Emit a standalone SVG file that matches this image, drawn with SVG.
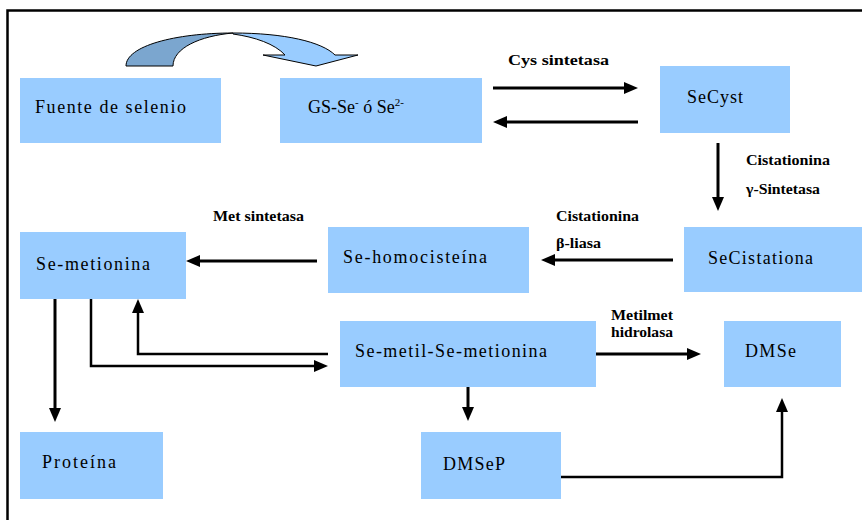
<svg xmlns="http://www.w3.org/2000/svg" width="862" height="520" viewBox="0 0 862 520">
<style>
.box{fill:#99CCFF;}
.lbl{font-size:18px;fill:#000;}
.enz{font-size:14px;font-weight:bold;fill:#000;}
.c{fill:none;stroke:#000;stroke-width:3;marker-end:url(#ah);}
.t{fill:none;stroke:#000;stroke-width:2.5;marker-end:url(#ah);}
</style>
<defs>
<marker id="ah" markerUnits="userSpaceOnUse" markerWidth="14" markerHeight="12" refX="2" refY="6" orient="auto">
<path d="M0,0 L14,6 L0,12 Z" fill="#000"/>
</marker>
</defs>
<rect width="862" height="520" fill="#fff"/>
<path d="M7.5,520 V10.5 H862" fill="none" stroke="#000" stroke-width="2.5"/>

<g id="curved-arrow">
<path d="M126,66 C126,46 175,33 233,33 C200,36 173,48 173,66 Z" fill="#7BA6CF" stroke="#000" stroke-width="1"/>
<path d="M233,33 C285,33 322,42 335,55 L358,55 L316,66 L263,55 L285,55 C275,44 255,37 233,34 Z" fill="#99CCFF" stroke="#000" stroke-width="1"/>
</g>

<g id="connectors">
<path class="c" d="M493,88 H626"/>
<path class="c" d="M638,122 H505"/>
<path class="c" d="M718,143 V199"/>
<path class="c" d="M673,260 H553"/>
<path class="c" d="M317,261 H198"/>
<path class="t" d="M328,354 H138 V311"/>
<path class="t" d="M91,299 V366 H316"/>
<path class="c" d="M55,299 V410"/>
<path class="c" d="M595,354 H689"/>
<path class="c" d="M468,387 V409"/>
<path class="t" d="M561,477 H782 V410"/>
</g>

<g id="labels" font-family="'Liberation Serif', Tinos, 'DejaVu Serif', serif">
<text class="enz" x="508" y="65" textLength="101" lengthAdjust="spacingAndGlyphs">Cys sintetasa</text>
<text class="enz" x="746" y="165" textLength="84" lengthAdjust="spacingAndGlyphs">Cistationina</text>
<text class="enz" x="746" y="194" textLength="74" lengthAdjust="spacingAndGlyphs">γ-Sintetasa</text>
<text class="enz" x="556" y="221" textLength="83" lengthAdjust="spacingAndGlyphs">Cistationina</text>
<text class="enz" x="556" y="248" textLength="45" lengthAdjust="spacingAndGlyphs">β-liasa</text>
<text class="enz" x="213" y="221" textLength="91" lengthAdjust="spacingAndGlyphs">Met sintetasa</text>
<text class="enz" x="611" y="320" textLength="62" lengthAdjust="spacingAndGlyphs">Metilmet</text>
<text class="enz" x="611" y="337" textLength="62" lengthAdjust="spacingAndGlyphs">hidrolasa</text>
</g>

<g id="nodes" font-family="'Liberation Serif', Tinos, 'DejaVu Serif', serif">
<g id="n-fuente">
<rect class="box" x="20" y="78" width="201" height="65"/>
<text class="lbl" x="35" y="113" textLength="151" lengthAdjust="spacing">Fuente de selenio</text>
</g>
<g id="n-gsse">
<rect class="box" x="280" y="78" width="202" height="65"/>
<text class="lbl" x="308" y="113">GS-Se<tspan font-size="11" dy="-7">-</tspan><tspan dy="7"> ó Se</tspan><tspan font-size="11" dy="-7">2-</tspan></text>
</g>
<g id="n-secyst">
<rect class="box" x="660" y="66" width="130" height="67"/>
<text class="lbl" x="687" y="103" textLength="56" lengthAdjust="spacing">SeCyst</text>
</g>
<g id="n-secistationa">
<rect class="box" x="684" y="227" width="178" height="65"/>
<text class="lbl" x="708" y="264" textLength="105" lengthAdjust="spacing">SeCistationa</text>
</g>
<g id="n-sehomocisteina">
<rect class="box" x="328" y="227" width="201" height="66"/>
<text class="lbl" x="343" y="263" textLength="144" lengthAdjust="spacing">Se-homocisteína</text>
</g>
<g id="n-semetionina">
<rect class="box" x="20" y="232" width="166" height="67"/>
<text class="lbl" x="36" y="270" textLength="114" lengthAdjust="spacing">Se-metionina</text>
</g>
<g id="n-semetil">
<rect class="box" x="340" y="321" width="256" height="66"/>
<text class="lbl" x="355" y="357" textLength="192" lengthAdjust="spacing">Se-metil-Se-metionina</text>
</g>
<g id="n-dmse">
<rect class="box" x="724" y="321" width="117" height="66"/>
<text class="lbl" x="745" y="357" textLength="51" lengthAdjust="spacing">DMSe</text>
</g>
<g id="n-dmsep">
<rect class="box" x="421" y="432" width="140" height="67"/>
<text class="lbl" x="443" y="470" textLength="62" lengthAdjust="spacing">DMSeP</text>
</g>
<g id="n-proteina">
<rect class="box" x="20" y="432" width="143" height="67"/>
<text class="lbl" x="42" y="468" textLength="74" lengthAdjust="spacing">Proteína</text>
</g>
</g>
</svg>
